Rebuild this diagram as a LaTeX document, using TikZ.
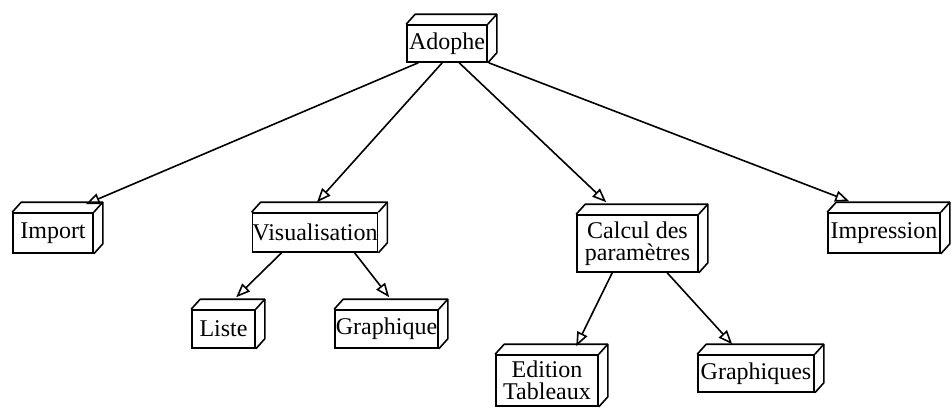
\documentclass[tikz,border=0pt]{standalone}
\usepackage{fontspec}
\setmainfont{Liberation Serif}
\usetikzlibrary{arrows.meta,calc}
\begin{document}
\begin{tikzpicture}[x=0.5pt,y=-0.5pt,
  cube/.style={draw, line width=0.8pt, inner sep=0pt, align=center, fill=white,
    font=\fontsize{12}{11}\selectfont},
  face/.style={line width=0.8pt, line join=round},
  link/.style={line width=0.8pt, -{Triangle[open,length=7pt,width=5.5pt]}}]
\useasboundingbox (0,0) rectangle (952,408);

\node[cube,minimum width=40pt,minimum height=18.5pt] (adophe) at (447,43.5) {Adophe};
\node[cube,minimum width=40pt,minimum height=20pt] (import) at (53,233) {Import};
\node[cube,minimum width=60pt,minimum height=19.5pt] (vis) at (315,232.5) {Visualisation};
\node[cube,minimum width=60.5pt,minimum height=28.5pt] (calcul) at (637.5,243.5) {Calcul des\\param\`etres};
\node[cube,minimum width=56pt,minimum height=20pt] (impr) at (884,233) {Impression};
\node[cube,minimum width=31.5pt,minimum height=19pt] (liste) at (223.5,329) {Liste};
\node[cube,minimum width=51.5pt,minimum height=19pt] (graphique) at (386.5,329) {Graphique};
\node[cube,minimum width=51pt,minimum height=25.5pt] (edition) at (547,380.5) {Edition\\Tableaux};
\node[cube,minimum width=58pt,minimum height=18.5pt] (graphiques) at (756,373.5) {Graphiques};

\foreach \n in {adophe,import,vis,calcul,impr,liste,graphique,edition,graphiques}{
  \draw[face] (\n.north west) -- ++(9,-10) -- ($(\n.north east)+(9,-10)$)
    -- ($(\n.south east)+(9,-10)$) -- (\n.south east);
  \draw[face] (\n.north east) -- ++(9,-10);
}

\draw[link] ($(adophe.south west)+(12,0)$) -- ($(import.north east)+(-8,-8)$);
\draw[link] ($(adophe.south west)+(36,0)$) -- ($(vis.north)+(2,-10)$);
\draw[link] ($(adophe.south west)+(53,0)$) -- ($(calcul.north west)+(30,-12)$);
\draw[link] ($(adophe.south east)+(1,0)$) -- ($(impr.north west)+(22,-11)$);
\draw[link] ($(vis.south west)+(30,0)$) -- ($(liste.north west)+(45,-12)$);
\draw[link] ($(vis.south west)+(103,0)$) -- ($(graphique.north west)+(55,-12)$);
\draw[link] ($(calcul.south west)+(36,0)$) -- ($(edition.north west)+(81,-8)$);
\draw[link] ($(calcul.south west)+(91,0)$) -- ($(graphiques.north west)+(35,-10)$);
\end{tikzpicture}
\end{document}
